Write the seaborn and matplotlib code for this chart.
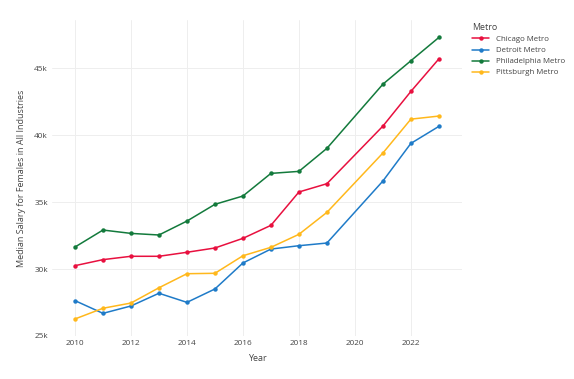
import pandas as pd
import matplotlib
matplotlib.use("Agg")
import matplotlib.pyplot as plt
import seaborn as sns
from matplotlib.ticker import FuncFormatter

years = [2010, 2011, 2012, 2013, 2014, 2015, 2016, 2017, 2018, 2019, 2021, 2022, 2023]
chicago = [30250, 30700, 30950, 30950, 31250, 31570, 32290, 33260, 35750, 36370, 40670, 43260, 45690]
detroit = [27640, 26690, 27240, 28190, 27510, 28510, 30450, 31490, 31740, 31940, 36570, 39380, 40650]
philadelphia = [31640, 32910, 32660, 32540, 33580, 34830, 35450, 37140, 37290, 39010, 43800, 45550, 47290]
pittsburgh = [26270, 27070, 27460, 28600, 29650, 29680, 30990, 31620, 32590, 34230, 38660, 41190, 41420]

metros = ["Chicago Metro", "Detroit Metro", "Philadelphia Metro", "Pittsburgh Metro"]
colors = ["#E8103F", "#1F7BC8", "#137A3C", "#FFB81C"]

df = pd.concat([
    pd.DataFrame({"Year": years, "Salary": vals, "Metro": m})
    for m, vals in zip(metros, [chicago, detroit, philadelphia, pittsburgh])
])

sns.set_style("white")
plt.rcParams["font.family"] = ["Open Sans", "DejaVu Sans"]

fig = plt.figure(figsize=(5.74, 3.79), dpi=100)
ax = fig.add_axes([0.0906, 0.1135, 0.714, 0.834])

sns.lineplot(data=df, x="Year", y="Salary", hue="Metro", palette=colors,
             marker="o", markersize=3.2, markeredgewidth=0, linewidth=1.1, ax=ax)

ax.set_xlim(2009.18, 2023.82)
ax.set_ylim(25000, 48600)
ax.set_xticks(range(2010, 2023, 2))
ax.set_yticks([25000, 30000, 35000, 40000, 45000])
ax.yaxis.set_major_formatter(FuncFormatter(lambda v, p: f"{int(v/1000)}k"))
ax.grid(True, color="#eeeeee", linewidth=0.7)
ax.set_axisbelow(True)
for s in ax.spines.values():
    s.set_visible(False)
ax.tick_params(length=0, labelsize=5.9, colors="#444444", pad=3)
ax.set_xlabel("Year", fontsize=6.5, color="#444444", labelpad=5)
ax.set_ylabel("Median Salary for Females in All Industries", fontsize=6.5, color="#444444", labelpad=6)

leg = ax.legend(title="Metro", loc="upper left", bbox_to_anchor=(1.017, 1.0), frameon=False,
                fontsize=5.7, title_fontsize=6.4, handlelength=2.2, labelspacing=0.45,
                borderaxespad=0)
leg._legend_box.align = "left"
for t in leg.get_texts():
    t.set_color("#444444")
leg.get_title().set_color("#444444")

fig.savefig("out.png", dpi=100)
